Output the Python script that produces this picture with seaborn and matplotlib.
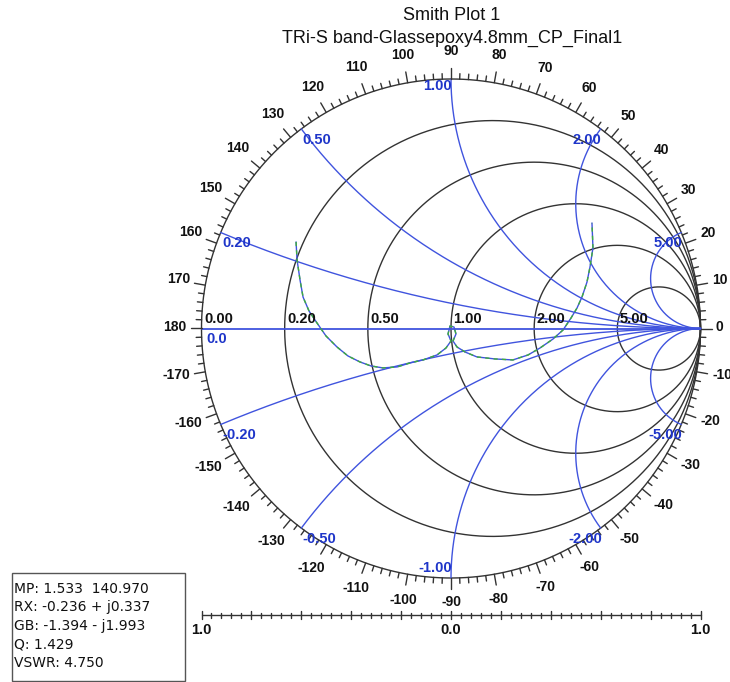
import numpy as np
import pandas as pd
import matplotlib
matplotlib.use("Agg")
import matplotlib.pyplot as plt
from matplotlib.patches import Rectangle
import seaborn as sns

# ---------------- data ----------------
TITLE = "Smith Plot 1"
SUBTITLE = "TRi-S band-Glassepoxy4.8mm_CP_Final1"

resistance_values = [0.2, 0.5, 1.0, 2.0, 5.0]
resistance_label_values = [0.0, 0.2, 0.5, 1.0, 2.0, 5.0]
resistance_labels = ["0.00", "0.20", "0.50", "1.00", "2.00", "5.00"]
reactance_values = [0.2, 0.5, 1.0, 2.0, 5.0, -0.2, -0.5, -1.0, -2.0, -5.0]
reactance_labels = ["0.20", "0.50", "1.00", "2.00", "5.00",
                    "-0.20", "-0.50", "-1.00", "-2.00", "-5.00"]
angle_labels = list(range(-170, 190, 10))

gamma_re = [-0.621, -0.617, -0.605, -0.593, -0.569, -0.537, -0.501, -0.457, -0.413,
            -0.365, -0.321, -0.273, -0.216, -0.164, -0.112, -0.056, -0.020, 0.000,
            -0.012, -0.004, 0.012, 0.020, 0.008, 0.024, 0.056, 0.104, 0.176, 0.248,
            0.309, 0.357, 0.409, 0.449, 0.481, 0.505, 0.525, 0.545, 0.557, 0.569,
            0.565]
gamma_im = [0.347, 0.275, 0.194, 0.126, 0.070, 0.022, -0.030, -0.074, -0.110,
            -0.134, -0.150, -0.158, -0.154, -0.138, -0.126, -0.106, -0.078, -0.050,
            -0.022, 0.010, 0.006, -0.022, -0.050, -0.074, -0.094, -0.114, -0.122,
            -0.126, -0.106, -0.078, -0.042, -0.006, 0.042, 0.082, 0.126, 0.186,
            0.246, 0.323, 0.423]

info_lines = ["MP: 1.533  140.970", "RX: -0.236 + j0.337", "GB: -1.394 - j1.993",
              "Q: 1.429", "VSWR: 4.750"]
scale_positions = [-1.0, 0.0, 1.0]
scale_labels = ["1.0", "0.0", "1.0"]

# ---------------- style ----------------
sns.set_style("white")
plt.rcParams["font.family"] = ["Liberation Sans", "DejaVu Sans"]

BLUE_LINE = "#4054de"
BLUE_TEXT = "#1e35c9"
DARK = "#333333"
GREEN = "#3fae3a"

W, H = 730, 682
CX, CY, R = 451.0, 328.5, 249.5


def D(xp, yp):
    return (xp - CX) / R, (CY - yp) / R


def P(gx, gy):
    return CX + gx * R, CY - gy * R


def cap_text(xp, yc, s, size, ha="center", **kw):
    # place text so that its cap-height centre sits at pixel row yc
    cap = 0.716 * size * 100 / 72
    x, y = D(xp, yc + cap / 2)
    ax.text(x, y, s, fontsize=size, ha=ha, va="baseline", **kw)


fig = plt.figure(figsize=(7.3, 6.82), dpi=100)
ax = fig.add_axes([0, 0, 1, 1])

LW = 1.0

# outer circle + resistance circles
t = np.linspace(0, 2 * np.pi, 720)
ax.plot(np.cos(t), np.sin(t), color=DARK, lw=LW)
for r in resistance_values:
    c, rad = r / (1 + r), 1 / (1 + r)
    ax.plot(c + rad * np.cos(t), rad * np.sin(t), color=DARK, lw=LW)

# reactance arcs
rr = np.concatenate([[0.0], np.logspace(-3, 5, 900)])
for xv in reactance_values:
    z = rr + 1j * xv
    g = (z - 1) / (z + 1)
    ax.plot(g.real, g.imag, color=BLUE_LINE, lw=LW)
ax.plot([-1, 1], [0, 0], color=BLUE_LINE, lw=1.3)

# trace
df = pd.DataFrame({"re": gamma_re, "im": gamma_im})
sns.lineplot(data=df, x="re", y="im", sort=False, estimator=None,
             color=BLUE_LINE, lw=1.0, ax=ax)
sns.lineplot(data=df, x="re", y="im", sort=False, estimator=None,
             color=GREEN, lw=1.0, linestyle=(0, (3, 3)), ax=ax)

# angle ticks
for a in range(-178, 181, 2):
    th = np.radians(a)
    L = 11 if a % 10 == 0 else 5.5
    ax.plot([np.cos(th), np.cos(th) * (1 + L / R)],
            [np.sin(th), np.sin(th) * (1 + L / R)], color=DARK, lw=LW)

# angle labels
em = 10 * 100 / 72
for a in angle_labels:
    s = str(a)
    w = sum(0.333 if ch == "-" else 0.556 for ch in s) * em
    th = np.radians(a)
    d = R + 21 + abs(np.cos(th)) * (w / 2 - 6) + abs(np.sin(th)) * 5
    xp = CX + d * np.cos(th)
    yc = CY - d * np.sin(th) - 2.5
    cap_text(xp, yc, s, 10, fontweight="bold", color="#111111", clip_on=False)

# resistance labels (on real axis)
for rv, lab in zip(resistance_label_values, resistance_labels):
    gx = (rv - 1) / (rv + 1)
    xp, _ = P(gx, 0)
    cap_text(xp + 2.5, CY - 10.5, lab, 10.5, ha="left", fontweight="bold", color="#111111")
cap_text(CX - R + 5, CY + 9, "0.0", 10.5, ha="left", fontweight="bold", color=BLUE_TEXT)

# reactance labels (at rim)
for xv, lab in zip(reactance_values, reactance_labels):
    g = (1j * xv - 1) / (1j * xv + 1)
    xp, yp = P(g.real, g.imag)
    if abs(xv) < 1:
        ha, dx = "left", 1.5
    else:
        ha, dx = "right", 1.0
    if xv == 1.0:
        dy = 6
    elif xv == -1.0:
        dy = -11
    else:
        dy = 9.5
    cap_text(xp + dx, yp + dy, lab, 10.5, ha=ha, fontweight="bold", color=BLUE_TEXT)

# bottom scale
ys = D(0, 615)[1]
ax.plot([-1, 1], [ys, ys], color=DARK, lw=LW)
for i in range(51):
    v = -1 + i * 0.04
    L = 4 if i % 5 == 0 else 2.5
    ax.plot([v, v], [ys - L / R, ys + L / R], color=DARK, lw=LW)
for v, lab in zip(scale_positions, scale_labels):
    xp, _ = P(v, 0)
    cap_text(xp, 629, lab, 10.5, fontweight="bold", color="#111111")

# titles
cap_text(452, 14, TITLE, 13, color="#111111")
cap_text(452, 36.5, SUBTITLE, 13, color="#111111")

# info box
x0, y0 = D(11.7, 680.5)
x1, y1 = D(185, 572.7)
ax.add_patch(Rectangle((x0, y0), x1 - x0, y1 - y0, fill=False,
                       edgecolor="#555555", lw=1.0))
for i, line in enumerate(info_lines):
    cap_text(14, 588 + i * 18.5, line, 10, ha="left", color="#111111",
             family=["DejaVu Sans"])

ax.set_xlim(-CX / R, (W - CX) / R)
ax.set_ylim(-(H - CY) / R, CY / R)
ax.axis("off")
fig.savefig("out.png", dpi=100)
